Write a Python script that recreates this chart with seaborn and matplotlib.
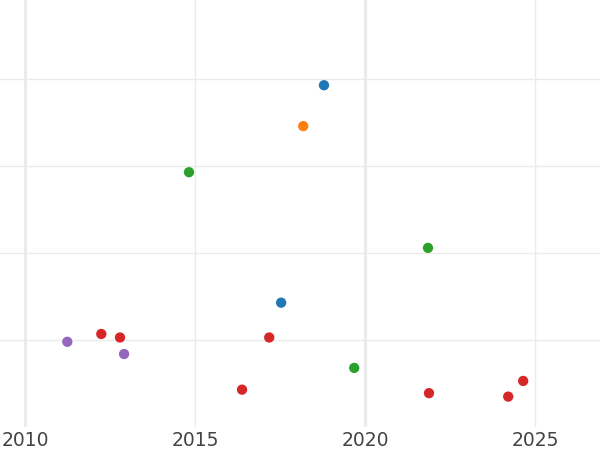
import seaborn as sns
import matplotlib.pyplot as plt
import matplotlib.ticker as mticker
import pandas as pd

# values
years = [2018.79, 2017.53,
         2018.18,
         2014.82, 2021.85, 2019.68,
         2012.24, 2012.79, 2017.18, 2016.38, 2021.88, 2024.21, 2024.65,
         2011.24, 2012.91]
values = [3.93, 1.43,
          3.46,
          2.93, 2.06, 0.68,
          1.07, 1.03, 1.03, 0.43, 0.39, 0.35, 0.53,
          0.98, 0.84]
groups = ["A", "A",
          "B",
          "C", "C", "C",
          "D", "D", "D", "D", "D", "D", "D",
          "E", "E"]
group_order = ["A", "B", "C", "D", "E"]

df = pd.DataFrame({"Year": years, "Value": values, "Group": groups})

sns.set_theme(style="white")
plt.rcParams['font.family'] = ['DejaVu Sans']

fig = plt.figure(figsize=(6, 4.5), dpi=100)
ax = fig.add_axes([0, 0.051, 1, 0.949])

sns.scatterplot(data=df, x="Year", y="Value", hue="Group", hue_order=group_order,
                palette=sns.color_palette("tab10", 5), s=55, linewidth=0,
                legend=False, ax=ax, zorder=3)

ax.set_xlim(2009.26, 2026.91)
ax.set_ylim(0, 4.91)

# major grid every 10 years (thicker), minor at the 5s
ax.xaxis.set_major_locator(mticker.FixedLocator([2010, 2020]))
ax.xaxis.set_minor_locator(mticker.FixedLocator([2015, 2025]))
ax.xaxis.set_minor_formatter(mticker.FormatStrFormatter("%d"))
ax.xaxis.set_major_formatter(mticker.FormatStrFormatter("%d"))
ax.yaxis.set_major_locator(mticker.FixedLocator([1, 2, 3, 4]))
ax.set_yticklabels([])

ax.grid(axis="x", which="major", color="#ebebeb", linewidth=2.2)
ax.grid(axis="x", which="minor", color="#ebebeb", linewidth=1.0)
ax.grid(axis="y", which="major", color="#ebebeb", linewidth=1.0)

ax.tick_params(axis="x", which="both", length=0, labelsize=13.5,
               labelcolor="#444444", pad=3)
ax.tick_params(axis="y", length=0)
ax.set_xlabel("")
ax.set_ylabel("")
for s in ax.spines.values():
    s.set_visible(False)

plt.savefig("out.png", dpi=100)
